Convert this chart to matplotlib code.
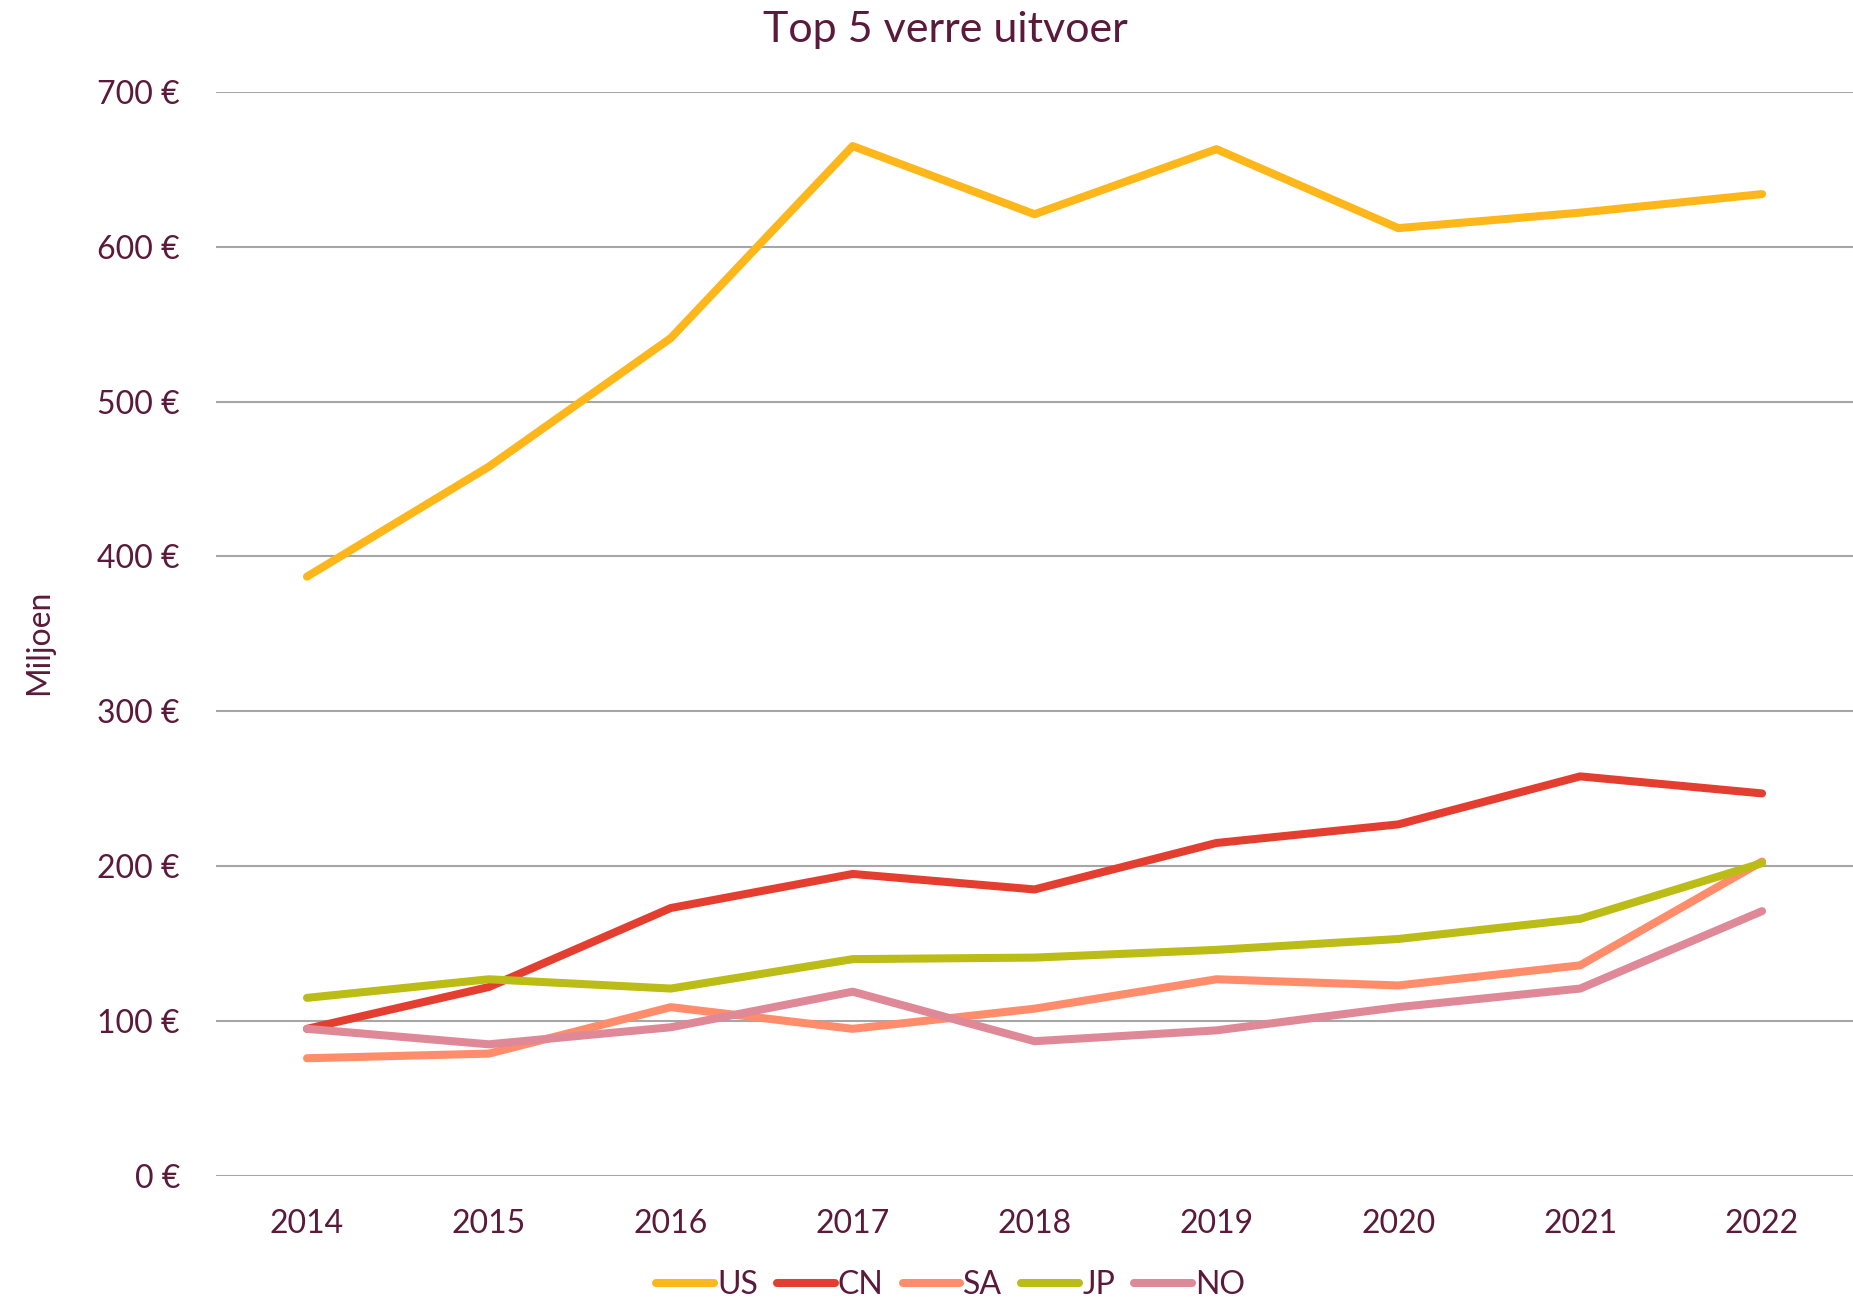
import numpy as np
import matplotlib.pyplot as plt

# jaren en uitvoer per land (miljoen euro)
years = ['2014', '2015', '2016', '2017', '2018', '2019', '2020', '2021', '2022']
us = [387, 458, 541, 665, 621, 663, 612, 622, 634]
cn = [95, 122, 173, 195, 185, 215, 227, 258, 247]
sa = [76, 79, 109, 95, 108, 127, 123, 136, 203]
jp = [115, 127, 121, 140, 141, 146, 153, 166, 202]
no = [95, 85, 96, 119, 87, 94, 109, 121, 171]

series = [('US', us, '#fdb71a'), ('CN', cn, '#e43e30'), ('SA', sa, '#ff8d6b'),
          ('JP', jp, '#bbbc15'), ('NO', no, '#de8898')]

txt = '#5c1a3a'
plt.rcParams['font.family'] = ['Lato', 'DejaVu Sans']

fig = plt.figure(figsize=(18.53, 13.03), dpi=100)
ax = fig.add_axes([0.1166, 0.0975, 0.8834, 0.832])

x = np.arange(len(years))
for name, vals, col in series:
    ax.plot(x, vals, color=col, lw=5.8, solid_capstyle='round', solid_joinstyle='round', label=name)

ax.set_xlim(-0.5, len(years) - 0.5)
ax.set_ylim(0, 700)
ax.set_yticks(range(0, 701, 100))
ax.set_yticklabels([f'{v} €' for v in range(0, 701, 100)])
ax.set_xticks(x)
ax.set_xticklabels(years)
ax.grid(axis='y', color='#a6a6a6', lw=1.5)
ax.set_axisbelow(True)
for s in ax.spines.values():
    s.set_visible(False)
ax.tick_params(length=0, labelsize=23, labelcolor=txt)
ax.tick_params(axis='y', pad=26)
ax.tick_params(axis='x', pad=24)

fig.text(0.021, 0.507, 'Miljoen', rotation=90, ha='center', va='center', fontsize=23, color=txt)
fig.text(0.51, 1 - 30 / 1303, 'Top 5 verre uitvoer', ha='center', va='center', fontsize=31, color=txt)

leg = fig.legend(loc='center', bbox_to_anchor=(0.513, 0.0135), ncol=5, frameon=False,
                 fontsize=23, handlelength=1.8, handletextpad=0.1, columnspacing=0.6)
for t in leg.get_texts():
    t.set_color(txt)

fig.savefig('out.png', dpi=100)
